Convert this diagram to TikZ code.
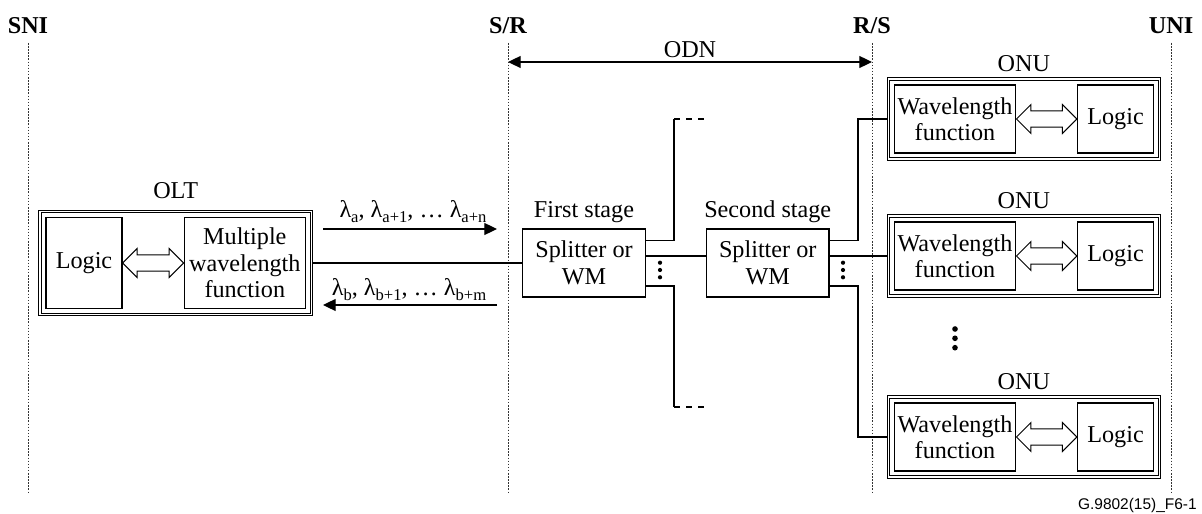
\documentclass[tikz,border=0pt]{standalone}
\usepackage{fontspec}
\setmainfont{Liberation Serif}
\newfontfamily\idfont{Liberation Sans}
\usetikzlibrary{shapes.arrows, arrows.meta, positioning, fit, calc}
\newcommand{\figfont}{\fontsize{17.2}{18.8}\selectfont}
\newcommand{\lsub}[1]{\raisebox{-0.45ex}{\fontsize{11.8}{11.8}\selectfont #1}}
\tikzset{
  box/.style={rectangle, draw, line width=0.9pt, align=center, inner sep=0pt,
              font=\figfont},
  unit/.style={rectangle, draw, double, line width=0.7pt, double distance=0.9pt,
               inner sep=3.8pt},
  dblarrow/.style={double arrow, draw, line width=0.7pt, inner xsep=0pt,
                   inner ysep=0.19cm, text height=0pt, text depth=0pt,
                   double arrow head extend=0.16cm},
  tag/.style={inner sep=0pt, text depth=0pt, font=\figfont},
  refname/.style={inner sep=0pt, text depth=0pt, font=\figfont\bfseries},
  refline/.style={line width=0.6pt, dash pattern=on 1.1pt off 1.1pt, black!80},
  link/.style={line width=0.9pt},
  stubdash/.style={dash pattern=on 4.3pt off 4.3pt},
  arrow/.style={-{Triangle[length=9pt,width=8.5pt]}, line width=0.9pt},
  biarrow/.style={{Triangle[length=9pt,width=8.5pt]}-{Triangle[length=9pt,width=8.5pt]}, line width=0.9pt},
}
\begin{document}
\begin{tikzpicture}[x=0.025cm, y=0.025cm]
  \useasboundingbox (0,0) rectangle (1202,513);

  % reference points
  \foreach \x/\n/\t in {28/sni/SNI, 508/sr/{S/R}, 872/rs/{R/S}, 1171/uni/UNI} {
    \coordinate (\n top) at (\x,470);
    \coordinate (\n bot) at (\x,20);
    \node[refname, above=0.225cm of \n top] (\n) {\t};
    \draw[refline] (\n top) -- (\n bot);
  }

  % ODN span
  \coordinate (odnl) at (508,451);
  \coordinate (odnr) at (872,451);
  \draw[biarrow] (odnl) -- node[tag, above=0.1cm] (odn) {ODN} (odnr);

  % OLT
  \node[box, minimum width=1.9cm, minimum height=2.275cm] (ologic) at (84,250) {Logic};
  \node[box, minimum width=3.025cm, minimum height=2.275cm, right=1.525cm of ologic] (omwf)
       {Multiple\\wavelength\\function};
  \node[unit, fit=(ologic)(omwf)] (olt) {};
  \node[tag, above=0.3cm of olt] (oltname) {OLT};
  \node[dblarrow, minimum height=1.525cm] (oarr) at ($(ologic.east)!0.5!(omwf.west)$) {};

  % splitters
  \node[box, minimum width=3.06cm, minimum height=1.7cm] (sp1) at (584,250) {Splitter or\\WM};
  \node[box, minimum width=3.06cm, minimum height=1.7cm, right=1.5cm of sp1] (sp2) {Splitter or\\WM};
  \node[tag, above=0.275cm of sp1] (sp1name) {First stage};
  \node[tag, above=0.275cm of sp2] (sp2name) {Second stage};

  % ONUs
  \foreach \n/\y in {1/394, 2/257, 3/76} {
    \node[box, minimum width=3.04cm, minimum height=1.7cm] (wf\n) at (955,\y) {Wavelength\\function};
    \node[box, minimum width=1.9cm, minimum height=1.7cm, right=1.51cm of wf\n] (ulogic\n) {Logic};
    \node[unit, fit=(wf\n)(ulogic\n)] (onu\n) {};
    \node[tag, above=0.16cm of onu\n] (onuname\n) {ONU};
    \node[dblarrow, minimum height=1.51cm] (uarr\n) at ($(wf\n.east)!0.5!(ulogic\n.west)$) {};
  }

  % fibre links
  \draw[link] (olt) -- (sp1);
  \draw[link] ($(sp1.east)+(0,7)$) -- ($(sp2.west)+(0,7)$);
  \draw[link] (onu2.west) -- (onu2.west -| sp2.east);
  \draw[link] ($(sp2.east)+(0,22.5)$) -- ++(28.5,0) |- (onu1.west);
  \draw[link] ($(sp2.east)+(0,-23)$) -- ++(28.5,0) |- (onu3.west);
  \coordinate (stubt) at (674,394);
  \coordinate (stubte) at (705,394);
  \coordinate (stubb) at (674,106);
  \coordinate (stubbe) at (705,106);
  \draw[link] ($(sp1.east)+(0,22.5)$) -| (stubt);
  \draw[link] ($(sp1.east)+(0,-23)$) -| (stubb);
  \draw[link, stubdash] (stubt) -- (stubte);
  \draw[link, stubdash] (stubb) -- (stubbe);

  % wavelengths
  \coordinate (dnl) at (323,284);
  \coordinate (dnr) at (497,284);
  \coordinate (upr) at (497,208);
  \coordinate (upl) at (323,208);
  \draw[arrow] (dnl) -- (dnr);
  \draw[arrow] (upr) -- (upl);
  \node[tag, anchor=base] (dnlab) at (413,295) {λ\lsub{a}, λ\lsub{a+1}, … λ\lsub{a+n}};
  \node[tag, anchor=base] (uplab) at (409,217) {λ\lsub{b}, λ\lsub{b+1}, … λ\lsub{b+m}};

  % more outputs
  \foreach \x in {660,843}
    \foreach \y in {250.3,243,235.7}
      \fill (\x,\y) circle (1.5pt);
  \foreach \y in {184,174.7,165.3}
    \fill (955,\y) circle (2pt);

  \node[anchor=base east, inner sep=0pt, font=\idfont\fontsize{11}{13}\selectfont] (figid)
       at (1197,4) {G.9802(15)\_F6-1};
\end{tikzpicture}
\end{document}
